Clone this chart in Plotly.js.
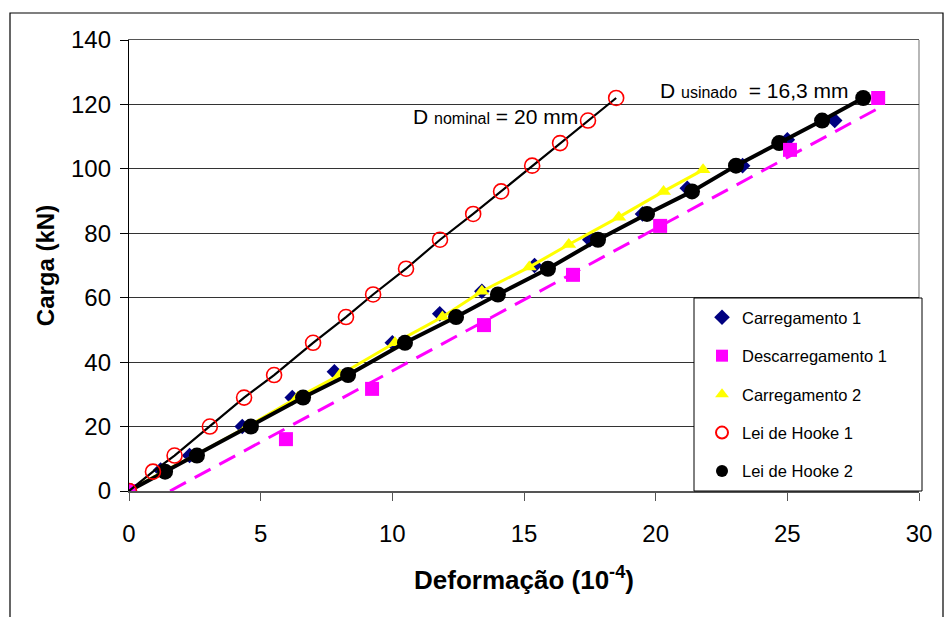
<!DOCTYPE html>
<html>
<head>
<meta charset="utf-8">
<script src="https://cdn.plot.ly/plotly-3.0.1.min.js"></script>
<style>
html,body{margin:0;padding:0;background:#fff;}
#chart{width:945px;height:617px;}
</style>
</head>
<body>
<div id="chart"></div>
<script>
// ---- data ----
var hookeLoad = [0, 6, 11, 20, 29, 36, 46, 54, 61, 69, 78, 86, 93, 101, 108, 115, 122];
var hooke1X = [0, 0.91, 1.73, 3.07, 4.37, 5.51, 6.99, 8.24, 9.27, 10.52, 11.81, 13.07, 14.13, 15.31, 16.37, 17.43, 18.5];
var hooke2X = [0, 1.37, 2.58, 4.63, 6.61, 8.32, 10.48, 12.42, 14.01, 15.91, 17.81, 19.67, 21.38, 23.05, 24.69, 26.32, 27.88];

var carreg1X = [0, 1.2, 2.3, 4.3, 6.2, 7.8, 10.0, 11.8, 13.4, 15.4, 17.5, 19.5, 21.2, 23.3, 25.0, 26.8];
var carreg1Y = [0, 6.5, 11, 20, 29, 37, 46, 55, 62, 70, 78, 86, 94, 101, 109, 115];

var carreg2X = [0, 1.3, 2.5, 4.5, 6.4, 8.0, 10.1, 11.9, 13.4, 15.2, 16.7, 18.6, 20.3, 21.8];
var carreg2Y = [0, 6, 11, 20, 29, 36, 46, 54, 62, 69.5, 76.5, 85, 93, 99.7];

var descX = [0, 5.96, 9.23, 13.48, 16.86, 20.17, 25.1, 28.45];
var descY = [0, 16.1, 31.7, 51.5, 67.1, 82.3, 105.9, 122.0];
var descFitX = [1.56, 28.5];
var descFitY = [0, 119];

var xTicks = [0, 5, 10, 15, 20, 25, 30];
var yTicks = [0, 20, 40, 60, 80, 100, 120, 140];

var names = ['Carregamento 1', 'Descarregamento 1', 'Carregamento 2', 'Lei de Hooke 1', 'Lei de Hooke 2'];

// ---- traces ----
var traces = [
  {x: carreg1X, y: carreg1Y, mode: 'markers', name: names[0], legendgroup: 'a', legendrank: 1,
   marker: {symbol: 'diamond', size: 12, color: '#000080'}},
  {x: carreg2X, y: carreg2Y, mode: 'lines', showlegend: false, hoverinfo: 'skip',
   line: {color: '#FFFF00', width: 3}},
  {x: carreg2X, y: carreg2Y, mode: 'markers', name: names[2], legendgroup: 'c', legendrank: 3,
   marker: {symbol: 'triangle-up', size: 13, color: '#FFFF00'}},
  {x: descFitX, y: descFitY, mode: 'lines', showlegend: false, hoverinfo: 'skip',
   line: {color: '#FF00FF', width: 3, dash: '18px,10px'}},
  {x: hooke2X, y: hookeLoad, mode: 'lines', showlegend: false, hoverinfo: 'skip',
   line: {color: '#000000', width: 4}},
  {x: hooke2X, y: hookeLoad, mode: 'markers', name: names[4], legendgroup: 'e', legendrank: 5,
   marker: {symbol: 'circle', size: 16, color: '#000000'}},
  {x: descX, y: descY, mode: 'markers', name: names[1], legendgroup: 'b', legendrank: 2,
   marker: {symbol: 'square', size: 14, color: '#FF00FF'}},
  {x: hooke1X, y: hookeLoad, mode: 'lines', showlegend: false, hoverinfo: 'skip',
   line: {color: '#000000', width: 2.2}},
  {x: hooke1X, y: hookeLoad, mode: 'markers', name: names[3], legendgroup: 'd', legendrank: 4,
   marker: {symbol: 'circle-open', size: 15, color: '#FF0000', line: {width: 1.6, color: '#FF0000'}}}
];

// plot-area pixel geometry helpers (paper coords)
var L = 129, R = 919, T = 40, B = 491;
function px(v){ return (v - L) / (R - L); }
function py(v){ return (B - v) / (B - T); }

var layout = {
  width: 945, height: 617,
  margin: {l: L, r: 945 - R, t: T, b: 617 - B},
  paper_bgcolor: '#ffffff', plot_bgcolor: '#ffffff',
  showlegend: true,
  font: {family: 'Liberation Sans, Arial, sans-serif', color: '#000'},
  xaxis: {
    range: [0, 30], tickvals: xTicks, ticktext: xTicks.map(String),
    showgrid: false, zeroline: false,
    showline: true, linecolor: '#555555', linewidth: 1.5, mirror: true,
    ticks: 'outside', ticklen: 8, tickcolor: '#555555', tickwidth: 1,
    ticklabelstandoff: 13,
    tickfont: {size: 24, family: 'Liberation Sans, Arial, sans-serif'},
    title: {text: '<b>Deformação (10<sup>-4</sup>)</b>', font: {size: 26}, standoff: 24}
  },
  yaxis: {
    range: [0, 140], tickvals: yTicks, ticktext: yTicks.map(String),
    showgrid: true, gridcolor: '#333333', gridwidth: 1,
    zeroline: false, showline: true, linecolor: '#000000', linewidth: 1.2,
    ticks: 'outside', ticklen: 8, tickcolor: '#000000',
    ticklabelstandoff: 4,
    tickfont: {size: 24, family: 'Liberation Sans, Arial, sans-serif'},
    title: {text: '<b>Carga (kN)</b>', font: {size: 24}, standoff: 9}
  },
  legend: {
    x: px(702), y: py(300), xanchor: 'left', yanchor: 'top',
    bgcolor: 'rgba(0,0,0,0)', borderwidth: 0,
    traceorder: 'grouped', tracegroupgap: 14,
    font: {size: 16.5, family: 'Liberation Sans, Arial, sans-serif'},
    itemsizing: 'constant'
  },
  shapes: [
    // legend box
    {type: 'rect', xref: 'paper', yref: 'paper', x0: px(694), x1: px(922), y0: py(491), y1: py(298),
     line: {color: '#000', width: 1}, fillcolor: '#ffffff', layer: 'above'},
    // right border of plot area
    {type: 'line', xref: 'paper', yref: 'paper', x0: 1, x1: 1, y0: 0, y1: 1,
     line: {color: '#888888', width: 1.2}, layer: 'below'},
    // outer frame
    {type: 'rect', xref: 'paper', yref: 'paper', x0: px(10), x1: px(943), y0: py(640), y1: py(13),
     line: {color: '#000', width: 1.2}, fillcolor: 'rgba(0,0,0,0)', layer: 'below'}
  ],
  annotations: [
    {x: 13.9, y: 116.3, xref: 'x', yref: 'y', showarrow: false,
     text: 'D <span style="font-size:16px">nominal</span> = 20 mm', font: {size: 21, color: '#000'}},
    {x: 23.74, y: 124.2, xref: 'x', yref: 'y', showarrow: false,
     text: 'D <span style="font-size:16px">usinado</span>  = 16,3 mm', font: {size: 21, color: '#000'}}
  ]
};

Plotly.newPlot('chart', traces, layout, {displayModeBar: false, staticPlot: true});
</script>
</body>
</html>
